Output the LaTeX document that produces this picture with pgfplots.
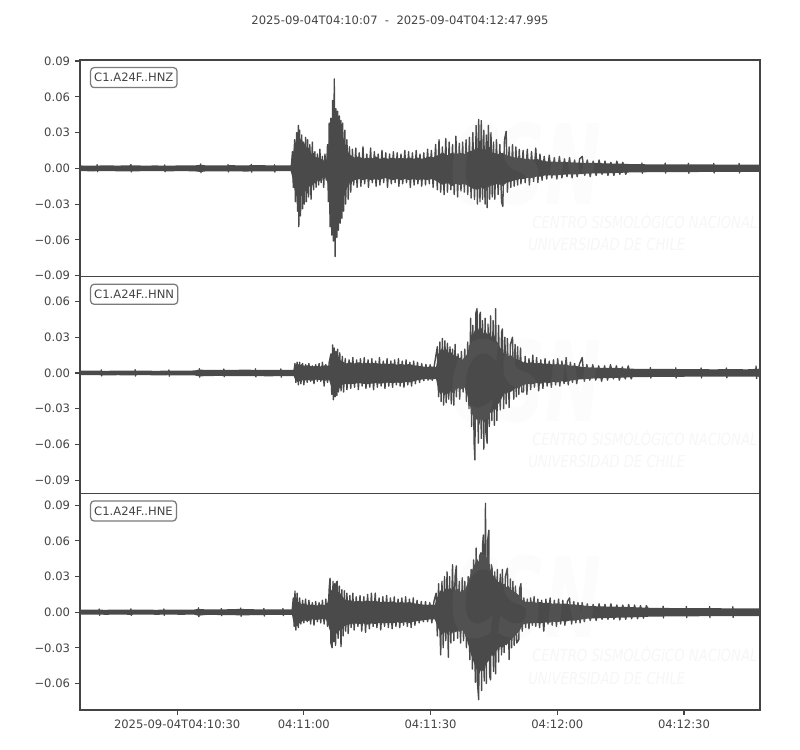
\documentclass[border=0pt]{standalone}
\usepackage{pgfplots}
\pgfplotsset{compat=1.18}
\usepgfplotslibrary{fillbetween}
\usepackage{fontspec}
\setmainfont{DejaVu Sans}
\definecolor{trc}{HTML}{4A4A4A}
\definecolor{axc}{HTML}{444444}
\definecolor{txc}{HTML}{444444}
\definecolor{boxc}{HTML}{7A7A7A}
\definecolor{wm}{RGB}{200,200,200}
\newcommand\tfont{\fontsize{8.33bp}{10bp}\selectfont}

\pgfplotsset{
  seis/.style={
    scale only axis, width=489.6bp, height=156bp,
    anchor=south west,
    xmin=0, xmax=160.995,
    scaled x ticks=false, scaled y ticks=false,
    axis line style={draw=axc, line width=0.8bp},
    tick style={draw=axc, line width=0.8bp},
    tick align=outside, major tick length=3.5bp,
    xtick pos=bottom, ytick pos=left,
    tick label style={font=\tfont, text=txc},
    yticklabel style={inner xsep=0pt, xshift=-3.5bp},
    xticklabel style={inner ysep=0pt, yshift=-3.5bp},
  },
  env/.style={draw=none, forget plot},
  trace/.style={trc, line width=1.0bp, line join=round, sharp plot, no marks},
}
\tikzset{
  lab/.style={anchor=north west, draw=boxc, line width=0.9bp, rounded corners=2.5bp,
    fill=white, inner xsep=2.6bp, inner ysep=0pt, minimum height=14.4bp,
    font=\tfont, text=txc},
  wm1/.style={anchor=west, inner sep=0pt, font=\fontsize{12bp}{13bp}\selectfont\itshape, text=wm, opacity=0.16, xscale=0.79},
  wm2/.style={inner sep=0pt, font=\fontsize{80bp}{90bp}\selectfont\bfseries\itshape, text=wm, opacity=0.06, xscale=0.6},
}

\begin{document}
\begin{tikzpicture}
\path (-57.6bp,-28.8bp) rectangle (518.4bp,511.2bp);

% ---- Panel 1: HNZ ----
\begin{axis}[seis, at={(0bp,312bp)},
  ymin=-0.0909, ymax=0.0909, xtick=\empty,
  ytick={-0.09,-0.06,-0.03,0,0.03,0.06,0.09},
  yticklabels={−0.09,−0.06,−0.03,0.00,0.03,0.06,0.09}]
\addplot[env, name path=zu] coordinates {
(0,0.0024)(3,0.0022)(6,0.0025)(9,0.0023)(12,0.0026)(15,0.0023)(18,0.0024)(21,0.0022)(24,0.0025)(27,0.0024)(28.6,0.0030)(30,0.0024)(33,0.0025)(36,0.0026)(39,0.0025)(42,0.0027)(45,0.0025)(48,0.0024)(49.9,0.0024)
(50.3,0.010)(50.8,0.020)(51.3,0.024)(51.8,0.021)(52.3,0.025)(52.8,0.019)(53.3,0.021)(53.8,0.016)(54.3,0.018)(54.8,0.012)(55.3,0.013)(55.8,0.009)(56.3,0.010)(56.8,0.007)(57.3,0.008)(57.8,0.006)(58.3,0.007)(58.7,0.014)(59.1,0.028)(59.5,0.034)(59.9,0.038)(60.3,0.040)(60.7,0.036)(61.1,0.039)(61.5,0.033)(61.9,0.030)(62.3,0.026)(62.7,0.021)(63.1,0.018)(63.6,0.013)(64.1,0.011)(65,0.009)(66,0.010)(67,0.008)(68,0.009)(69,0.008)(70,0.010)(71,0.008)(72,0.009)(73,0.008)(74,0.009)(75,0.008)(76,0.009)(77,0.008)(78,0.009)(79,0.008)(80,0.009)(81,0.008)(82,0.009)(83,0.010)(84,0.009)(85,0.012)(86,0.013)(87,0.011)(88,0.013)(89,0.012)(90,0.013)(91,0.012)(92,0.014)(93,0.015)(94,0.017)(95,0.015)(96,0.016)(97,0.014)(98,0.013)(99,0.012)(100,0.013)(101,0.011)(102,0.010)(103,0.009)(104,0.009)(105,0.008)(106,0.008)(107,0.007)(108,0.008)(109,0.007)(110,0.006)(112,0.0055)(114,0.0055)(116,0.005)(118,0.0048)(120,0.0045)(122,0.0045)(124,0.0042)(126,0.004)(128,0.004)(130,0.0036)(134,0.0034)(138,0.0034)(142,0.0033)(146,0.0033)(150,0.0032)(154,0.0032)(158,0.0031)(160.995,0.0031)};
\addplot[env, name path=zl] coordinates {
(0,-0.0024)(3,-0.0025)(6,-0.0023)(9,-0.0025)(12,-0.0026)(15,-0.0024)(18,-0.0023)(21,-0.0025)(24,-0.0024)(27,-0.0025)(28.6,-0.0031)(30,-0.0025)(33,-0.0026)(36,-0.0025)(39,-0.0027)(42,-0.0026)(45,-0.0025)(48,-0.0024)(49.9,-0.0024)
(50.3,-0.008)(50.8,-0.018)(51.3,-0.024)(51.8,-0.028)(52.3,-0.022)(52.8,-0.024)(53.3,-0.019)(53.8,-0.020)(54.3,-0.015)(54.8,-0.016)(55.3,-0.012)(55.8,-0.013)(56.3,-0.010)(56.8,-0.011)(57.3,-0.008)(57.8,-0.009)(58.3,-0.007)(58.7,-0.014)(59.1,-0.030)(59.5,-0.036)(59.9,-0.042)(60.3,-0.040)(60.7,-0.044)(61.1,-0.036)(61.5,-0.034)(61.9,-0.028)(62.3,-0.026)(62.7,-0.020)(63.1,-0.018)(63.6,-0.013)(64.1,-0.012)(65,-0.010)(66,-0.009)(67,-0.010)(68,-0.009)(69,-0.010)(70,-0.009)(71,-0.010)(72,-0.008)(73,-0.009)(74,-0.010)(75,-0.009)(76,-0.010)(77,-0.009)(78,-0.010)(79,-0.009)(80,-0.010)(81,-0.009)(82,-0.010)(83,-0.009)(84,-0.010)(85,-0.012)(86,-0.014)(87,-0.012)(88,-0.015)(89,-0.013)(90,-0.014)(91,-0.013)(92,-0.015)(93,-0.017)(94,-0.018)(95,-0.016)(96,-0.018)(97,-0.015)(98,-0.014)(99,-0.013)(100,-0.015)(101,-0.012)(102,-0.011)(103,-0.010)(104,-0.009)(105,-0.009)(106,-0.008)(107,-0.008)(108,-0.007)(109,-0.007)(110,-0.006)(112,-0.006)(114,-0.0055)(116,-0.005)(118,-0.005)(120,-0.0045)(122,-0.0042)(124,-0.0042)(126,-0.004)(128,-0.0038)(130,-0.0035)(134,-0.0033)(138,-0.0032)(142,-0.0031)(146,-0.0031)(150,-0.0030)(154,-0.0030)(158,-0.0029)(160.995,-0.0029)};
\addplot[fill=trc, draw=none] fill between[of=zu and zl];
\addplot[trace] coordinates {
(0,0)(4,0)(4.05,0.0030)(4.15,-0.0028)(4.2,0)(12,0)(12.05,0.0032)(12.15,-0.0030)(12.2,0)(20,0)(20.05,0.0028)(20.15,-0.0029)(20.2,0)(28.5,0)(28.55,0.0036)(28.65,-0.0036)(28.7,0)(35,0)(35.05,0.0031)(35.15,-0.0030)(35.2,0)(40.5,0)(40.55,0.0034)(40.65,-0.0032)(40.7,0)(46,0)(46.05,0.0030)(46.15,-0.0031)(46.2,0)(50.0,0)
(50.3,0.014)(50.5,-0.016)(50.8,0.024)(51.0,-0.028)(51.3,0.030)(51.5,-0.036)(51.7,0.036)(51.8,-0.049)(52.0,0.032)(52.2,-0.040)(52.5,0.028)(52.7,-0.034)(52.9,0.022)(53.1,-0.030)(53.4,0.026)(53.6,-0.028)(53.9,0.024)(54.1,-0.024)(54.4,0.020)(54.7,-0.026)(55.0,0.022)(55.3,-0.018)(55.6,0.014)(55.9,-0.016)(56.2,0.012)(56.5,-0.014)(56.8,0.016)(57.1,-0.012)(57.4,0.010)(57.7,-0.016)(58.0,0.012)(58.3,-0.010)
(58.6,0.020)(58.8,-0.028)(59.0,0.038)(59.2,-0.049)(59.4,0.042)(59.6,-0.056)(59.8,0.057)(60.0,-0.061)(60.2,0.075)(60.4,-0.074)(60.6,0.050)(60.8,-0.058)(61.0,0.048)(61.2,-0.052)(61.4,0.044)(61.6,-0.046)(61.8,0.040)(62.0,-0.042)(62.2,0.038)(62.4,-0.036)(62.7,0.032)(62.9,-0.030)(63.2,0.024)(63.5,-0.026)(63.8,0.018)(64.1,-0.020)
(64.5,0.016)(64.8,-0.014)(65.3,0.017)(65.6,-0.016)(66.1,0.013)(66.5,-0.015)(67.0,0.018)(67.4,-0.013)(67.9,0.012)(68.3,-0.016)(68.8,0.017)(69.2,-0.012)(69.7,0.014)(70.1,-0.015)(70.6,0.012)(71.0,-0.014)(71.5,0.015)(71.9,-0.012)(72.4,0.013)(72.8,-0.016)(73.3,0.012)(73.7,-0.013)(74.2,0.014)(74.6,-0.012)(75.1,0.013)(75.5,-0.015)(76.0,0.012)(76.4,-0.013)(76.9,0.015)(77.3,-0.012)(77.8,0.014)(78.2,-0.016)(78.7,0.013)(79.1,-0.014)(79.6,0.015)(80.0,-0.013)(80.5,0.012)(80.9,-0.015)(81.4,0.013)(81.8,-0.014)(82.3,0.016)(82.7,-0.013)(83.2,0.015)(83.6,-0.016)
(84.2,0.020)(84.6,-0.018)(85.0,0.024)(85.4,-0.020)(85.8,0.018)(86.2,-0.022)(86.6,0.025)(87.0,-0.020)(87.4,0.022)(87.8,-0.018)(88.2,0.020)(88.6,-0.022)(89.0,0.027)(89.4,-0.024)(89.8,0.021)(90.2,-0.019)(90.6,0.022)(91.0,-0.020)(91.4,0.024)(91.8,-0.022)(92.2,0.026)(92.6,-0.025)(93.0,0.030)(93.4,-0.026)(93.8,0.036)(94.1,-0.030)(94.4,0.041)(94.7,-0.028)(95.0,0.040)(95.3,-0.026)(95.6,0.032)(95.9,-0.030)(96.2,0.028)(96.4,-0.033)(96.7,0.036)(97.0,-0.026)(97.3,0.030)(97.6,-0.024)(97.9,0.022)(98.2,-0.026)(98.6,0.024)(99.0,-0.022)(99.4,0.020)(99.8,-0.028)(100.1,-0.032)(100.5,0.024)(100.9,0.031)(101.2,-0.020)(101.6,0.018)(102.0,-0.016)(102.4,0.020)(102.8,-0.015)(103.2,0.018)(103.6,-0.014)(104.0,0.016)(104.4,-0.013)
(104.9,0.015)(105.4,-0.012)(105.9,0.016)(106.4,-0.014)(106.9,0.014)(107.4,-0.011)(107.9,0.017)(108.4,-0.012)(108.9,0.012)(109.4,-0.010)(109.9,0.010)(110.5,-0.009)(111.1,0.011)(111.7,-0.008)(112.3,0.009)(112.9,-0.009)(113.5,0.010)(114.1,-0.008)(114.7,0.008)(115.3,-0.007)(115.9,0.009)(116.5,-0.008)(117.1,0.007)(117.7,-0.007)(118.3,0.008)(118.9,0.010)(119.5,-0.006)(120.1,0.007)(120.8,-0.007)(121.5,0.006)(122.2,-0.006)(122.9,0.007)(123.6,-0.005)(124.3,0.006)(125.0,-0.006)(125.7,0.005)(126.4,-0.006)(127.1,0.006)(127.8,-0.005)(128.5,0.005)(129.2,-0.005)
(129.8,0)(133,0)(133.05,0.0045)(133.15,-0.0042)(133.2,0)(138.5,0)(138.55,0.0044)(138.65,-0.0040)(138.7,0)(144,0)(144.05,0.0042)(144.15,-0.0041)(144.2,0)(150,0)(150.05,0.0041)(150.15,-0.0039)(150.2,0)(156,0)(156.05,0.0040)(156.15,-0.0038)(156.2,0)(160.995,0)};
\node[wm2] at (rel axis cs:0.656,0.52) {CSN};
\node[wm1] at (rel axis cs:0.665,0.257) {CENTRO SISMOLÓGICO NACIONAL};
\node[wm1] at (rel axis cs:0.659,0.148) {UNIVERSIDAD DE CHILE};
\node[lab] at (rel axis cs:0.0147,0.9677) {C1.A24F..HNZ};
\end{axis}

% ---- Panel 2: HNN ----
\begin{axis}[seis, at={(0bp,156bp)},
  ymin=-0.1011, ymax=0.0809, xtick=\empty,
  ytick={-0.09,-0.06,-0.03,0,0.03,0.06},
  yticklabels={−0.09,−0.06,−0.03,0.00,0.03,0.06}]
\addplot[env, name path=nu] coordinates {
(0,0.0019)(3,0.0020)(6,0.0018)(9,0.0020)(12,0.0019)(15,0.0020)(18,0.0018)(21,0.0020)(24,0.0019)(27,0.0021)(28.3,0.0028)(30,0.0026)(33,0.0027)(36,0.0026)(39,0.0028)(42,0.0026)(45,0.0027)(48,0.0026)(50.6,0.0026)
(51,0.007)(51.5,0.008)(52,0.0065)(52.5,0.0075)(53,0.006)(54,0.0065)(55,0.0055)(56,0.006)(57,0.0055)(58,0.0065)(59,0.006)(59.5,0.012)(60,0.016)(60.5,0.013)(61,0.015)(61.5,0.011)(62,0.010)(63,0.008)(64,0.009)(65,0.008)(66,0.009)(67,0.008)(68,0.0085)(69,0.008)(70,0.0085)(71,0.0075)(72,0.008)(73,0.0075)(74,0.008)(75,0.007)(76,0.0075)(77,0.007)(78,0.0075)(79,0.0065)(80,0.006)(81,0.0055)(82,0.005)(83,0.0055)(84.3,0.005)(84.8,0.016)(85.3,0.019)(85.8,0.021)(86.3,0.018)(86.8,0.020)(87.3,0.017)(87.8,0.018)(88.3,0.015)(88.8,0.016)(89.5,0.012)(90,0.013)(90.5,0.011)(91,0.013)(91.5,0.015)(92,0.020)(92.5,0.028)(93,0.032)(93.5,0.036)(94,0.040)(94.5,0.035)(95,0.038)(95.5,0.033)(96,0.036)(96.5,0.031)(97,0.034)(97.5,0.030)(98,0.033)(98.5,0.027)(99,0.025)(99.5,0.021)(100,0.019)(100.5,0.015)(101,0.016)(101.5,0.014)(102,0.015)(103,0.012)(104,0.011)(105,0.009)(106,0.0085)(107,0.009)(108,0.008)(109,0.0085)(110,0.0075)(111,0.008)(112,0.007)(113,0.0075)(114,0.007)(115,0.0072)(116,0.006)(117,0.0062)(118,0.0055)(120,0.0048)(122,0.0045)(124,0.0042)(126,0.0043)(128,0.004)(130,0.0036)(134,0.0034)(138,0.0034)(142,0.0033)(146,0.0032)(150,0.0031)(154,0.0032)(158,0.0031)(160.995,0.0036)};
\addplot[env, name path=nl] coordinates {
(0,-0.0019)(3,-0.0018)(6,-0.0020)(9,-0.0019)(12,-0.0020)(15,-0.0018)(18,-0.0020)(21,-0.0019)(24,-0.0020)(27,-0.0020)(28.3,-0.0029)(30,-0.0026)(33,-0.0025)(36,-0.0027)(39,-0.0026)(42,-0.0027)(45,-0.0028)(48,-0.0026)(50.6,-0.0026)
(51,-0.006)(51.5,-0.0075)(52,-0.007)(52.5,-0.006)(53,-0.0065)(54,-0.006)(55,-0.0065)(56,-0.0055)(57,-0.006)(58,-0.0065)(59,-0.006)(59.5,-0.012)(60,-0.014)(60.5,-0.015)(61,-0.012)(61.5,-0.013)(62,-0.010)(63,-0.009)(64,-0.0095)(65,-0.009)(66,-0.0085)(67,-0.009)(68,-0.0095)(69,-0.009)(70,-0.0085)(71,-0.009)(72,-0.0085)(73,-0.008)(74,-0.0085)(75,-0.008)(76,-0.0085)(77,-0.0075)(78,-0.008)(79,-0.007)(80,-0.006)(81,-0.0055)(82,-0.005)(83,-0.0055)(84.3,-0.005)(84.8,-0.014)(85.3,-0.018)(85.8,-0.016)(86.3,-0.019)(86.8,-0.017)(87.3,-0.018)(87.8,-0.015)(88.3,-0.017)(88.8,-0.014)(89.5,-0.013)(90,-0.012)(90.5,-0.014)(91,-0.012)(91.5,-0.016)(92,-0.022)(92.5,-0.030)(93,-0.036)(93.5,-0.042)(94,-0.038)(94.5,-0.044)(95,-0.037)(95.5,-0.042)(96,-0.036)(96.5,-0.039)(97,-0.033)(97.5,-0.034)(98,-0.030)(98.5,-0.031)(99,-0.026)(99.5,-0.024)(100,-0.020)(100.5,-0.017)(101,-0.018)(101.5,-0.015)(102,-0.016)(103,-0.013)(104,-0.012)(105,-0.010)(106,-0.009)(107,-0.0095)(108,-0.0085)(109,-0.009)(110,-0.008)(111,-0.0085)(112,-0.0075)(113,-0.008)(114,-0.007)(115,-0.0075)(116,-0.0065)(117,-0.006)(118,-0.0055)(120,-0.005)(122,-0.0045)(124,-0.0044)(126,-0.0042)(128,-0.004)(130,-0.0036)(134,-0.0034)(138,-0.0033)(142,-0.0032)(146,-0.0031)(150,-0.0031)(154,-0.0030)(158,-0.0030)(160.995,-0.0032)};
\addplot[fill=trc, draw=none] fill between[of=nu and nl];
\addplot[trace] coordinates {
(0,0)(5,0)(5.05,0.0026)(5.15,-0.0025)(5.2,0)(13,0)(13.05,0.0027)(13.15,-0.0026)(13.2,0)(21,0)(21.05,0.0025)(21.15,-0.0027)(21.2,0)(28.2,0)(28.25,0.0036)(28.35,-0.0035)(28.4,0)(34,0)(34.05,0.0033)(34.15,-0.0032)(34.2,0)(41.5,0)(41.55,0.0035)(41.65,-0.0033)(41.7,0)(47.5,0)(47.55,0.0034)(47.65,-0.0036)(47.7,0)(50.6,0)
(50.9,0.008)(51.1,-0.008)(51.4,0.009)(51.7,-0.010)(52.0,0.009)(52.3,-0.009)(52.7,0.008)(53.0,-0.010)(53.4,0.007)(53.8,-0.008)(54.2,0.008)(54.6,-0.007)(55.0,0.006)(55.4,-0.009)(55.8,0.007)(56.2,-0.007)(56.6,0.008)(57.0,-0.007)(57.4,0.009)(57.8,-0.011)(58.2,0.007)(58.6,-0.008)(59.0,0.009)
(59.4,0.016)(59.6,-0.018)(59.8,0.0236)(60.0,-0.0225)(60.2,0.021)(60.4,-0.020)(60.6,0.018)(60.8,-0.019)(61.0,0.020)(61.2,-0.016)(61.5,0.017)(61.8,-0.015)(62.1,0.014)(62.4,-0.016)
(62.8,0.012)(63.2,-0.014)(63.7,0.011)(64.1,-0.013)(64.6,0.013)(65.0,-0.012)(65.5,0.011)(65.9,-0.014)(66.4,0.012)(66.8,-0.011)(67.3,0.013)(67.7,-0.013)(68.2,0.011)(68.6,-0.012)(69.1,0.012)(69.5,-0.014)(70.0,0.010)(70.4,-0.012)(70.9,0.013)(71.3,-0.011)(71.8,0.010)(72.2,-0.013)(72.7,0.012)(73.1,-0.011)(73.6,0.010)(74.0,-0.012)(74.5,0.011)(74.9,-0.010)(75.4,0.012)(75.8,-0.011)(76.3,0.010)(76.7,-0.012)(77.2,0.011)(77.6,-0.010)(78.1,0.009)(78.5,-0.011)(79.0,0.010)(79.4,-0.009)(79.9,0.009)(80.4,-0.008)(80.9,0.0078)(81.4,-0.0065)(81.9,0.0072)(82.4,-0.006)(82.9,0.007)(83.4,-0.0062)(83.9,0.0068)
(84.6,0.022)(84.9,-0.020)(85.2,0.026)(85.5,-0.024)(85.8,0.029)(86.1,-0.027)(86.4,0.027)(86.7,-0.025)(87.0,0.025)(87.3,-0.022)(87.6,0.022)(87.9,-0.026)(88.2,0.020)(88.5,-0.027)(88.8,0.024)(89.1,-0.020)(89.5,0.016)(89.9,-0.022)(90.3,0.018)(90.7,-0.016)(91.1,0.020)(91.5,-0.024)(91.8,0.026)(92.1,-0.030)(92.5,0.046)(92.7,-0.045)(93.0,0.040)(93.3,-0.058)(93.5,-0.073)(93.7,0.050)(94.0,0.054)(94.3,-0.059)(94.6,0.048)(94.8,0.051)(95.0,-0.055)(95.3,0.044)(95.6,-0.064)(95.9,0.046)(96.1,-0.050)(96.4,-0.059)(96.6,0.041)(96.9,-0.045)(97.2,0.048)(97.5,-0.040)(97.8,0.044)(98.1,-0.044)(98.4,0.054)(98.7,-0.040)(99.1,0.040)(99.5,-0.031)(99.8,0.034)(100.0,0.037)(100.3,-0.030)(100.6,0.030)(100.9,-0.026)(101.2,0.029)(101.6,-0.029)(101.9,0.024)(102.4,0.030)(102.7,-0.022)(103.0,0.024)(103.3,-0.020)(103.6,0.022)(103.9,-0.018)(104.3,0.021)(104.6,-0.016)
(105.0,-0.016)(105.4,0.014)(105.8,-0.018)(106.3,0.012)(106.7,-0.014)(107.2,0.015)(107.6,-0.012)(108.1,0.013)(108.6,-0.015)(109.1,0.011)(109.6,-0.013)(110.1,0.012)(110.6,-0.011)(111.1,0.010)(111.6,-0.012)(112.1,0.011)(112.6,-0.010)(113.1,0.012)(113.6,-0.011)(114.1,0.010)(114.6,-0.009)(115.1,0.013)(115.6,-0.010)(116.1,0.009)(116.6,-0.008)(117.1,0.008)(117.6,-0.009)
(118.2,0.007)(118.9,0.013)(119.4,-0.007)(120.0,0.007)(120.7,-0.006)(121.4,0.007)(122.1,-0.006)(122.8,0.006)(123.5,-0.007)(124.2,0.006)(124.9,-0.006)(125.6,0.007)(126.3,-0.005)(127.0,0.006)(127.7,-0.006)(128.4,0.005)(129.1,-0.005)(129.8,0.006)(130.5,-0.005)
(131,0)(135,0)(135.05,0.0045)(135.15,-0.0043)(135.2,0)(141,0)(141.05,0.0043)(141.15,-0.0042)(141.2,0)(147,0)(147.05,0.0042)(147.15,-0.0041)(147.2,0)(153,0)(153.05,0.0042)(153.15,-0.0040)(153.2,0)(160.0,0)(160.05,0.0058)(160.2,-0.0046)(160.3,0)(160.995,0)};
\node[wm2] at (rel axis cs:0.656,0.52) {CSN};
\node[wm1] at (rel axis cs:0.665,0.257) {CENTRO SISMOLÓGICO NACIONAL};
\node[wm1] at (rel axis cs:0.659,0.148) {UNIVERSIDAD DE CHILE};
\node[lab] at (rel axis cs:0.0147,0.9677) {C1.A24F..HNN};
\end{axis}

% ---- Panel 3: HNE ----
\begin{axis}[seis, at={(0bp,0bp)},
  ymin=-0.0824, ymax=0.1001,
  xtick={23,53,83,113,143},
  xticklabels={2025-09-04T04:10:30,04:11:00,04:11:30,04:12:00,04:12:30},
  ytick={-0.06,-0.03,0,0.03,0.06,0.09},
  yticklabels={−0.06,−0.03,0.00,0.03,0.06,0.09}]
\addplot[env, name path=eu] coordinates {
(0,0.0021)(3,0.0022)(6,0.0020)(9,0.0022)(12,0.0021)(15,0.0022)(18,0.0020)(21,0.0022)(24,0.0021)(27,0.0022)(28,0.0028)(30,0.0023)(33,0.0024)(36,0.0025)(38,0.0028)(40,0.0025)(43,0.0024)(46,0.0024)(50.2,0.0023)
(50.5,0.009)(51,0.011)(51.5,0.009)(52,0.008)(52.5,0.0065)(53,0.0075)(54,0.006)(55,0.0065)(56,0.0055)(57,0.0065)(58,0.006)(58.6,0.008)(59,0.014)(59.5,0.019)(60,0.016)(60.5,0.019)(61,0.015)(61.5,0.017)(62,0.013)(62.5,0.012)(63,0.010)(64,0.010)(65,0.009)(66,0.0095)(67,0.009)(68,0.010)(69,0.009)(70,0.0095)(71,0.0085)(72,0.009)(73,0.0085)(74,0.009)(75,0.008)(76,0.0085)(77,0.008)(78,0.0085)(79,0.0075)(80,0.007)(81,0.0065)(82,0.006)(83,0.0065)(84,0.006)(84.5,0.012)(85,0.016)(85.5,0.019)(86,0.017)(86.5,0.020)(87,0.018)(87.5,0.021)(88,0.019)(88.5,0.022)(89,0.018)(89.5,0.020)(90,0.017)(90.5,0.019)(91,0.018)(91.5,0.022)(92,0.027)(92.5,0.032)(93,0.037)(93.5,0.041)(94,0.045)(94.5,0.042)(95,0.047)(95.5,0.050)(96,0.048)(96.5,0.044)(97,0.038)(97.5,0.033)(98,0.030)(98.5,0.028)(99,0.025)(99.5,0.027)(100,0.023)(100.5,0.024)(101,0.021)(101.5,0.022)(102,0.019)(103,0.017)(104,0.014)(104.6,0.011)(105,0.009)(106,0.0085)(107,0.009)(108,0.008)(109,0.0085)(110,0.0075)(111,0.008)(112,0.007)(113,0.0075)(114,0.007)(115,0.0072)(116,0.0065)(117,0.0065)(118,0.006)(119,0.0058)(120,0.0052)(122,0.005)(124,0.0048)(126,0.0047)(128,0.0045)(130,0.0043)(132,0.0041)(134,0.0038)(136,0.0036)(140,0.0035)(144,0.0035)(148,0.0034)(152,0.0033)(156,0.0033)(160.995,0.0033)};
\addplot[env, name path=el] coordinates {
(0,-0.0021)(3,-0.0020)(6,-0.0022)(9,-0.0021)(12,-0.0022)(15,-0.0020)(18,-0.0022)(21,-0.0021)(24,-0.0022)(27,-0.0021)(28,-0.0030)(30,-0.0023)(33,-0.0024)(36,-0.0025)(38,-0.0027)(40,-0.0026)(43,-0.0024)(46,-0.0023)(50.2,-0.0023)
(50.5,-0.008)(51,-0.011)(51.5,-0.012)(52,-0.009)(52.5,-0.008)(53,-0.007)(54,-0.0075)(55,-0.006)(56,-0.0065)(57,-0.006)(58,-0.0055)(58.6,-0.008)(59,-0.014)(59.5,-0.018)(60,-0.020)(60.5,-0.017)(61,-0.019)(61.5,-0.015)(62,-0.014)(62.5,-0.012)(63,-0.011)(64,-0.010)(65,-0.0095)(66,-0.010)(67,-0.0095)(68,-0.0105)(69,-0.0095)(70,-0.010)(71,-0.009)(72,-0.0095)(73,-0.009)(74,-0.0095)(75,-0.0085)(76,-0.009)(77,-0.0085)(78,-0.009)(79,-0.008)(80,-0.0075)(81,-0.007)(82,-0.0065)(83,-0.006)(84,-0.006)(84.5,-0.011)(85,-0.015)(85.5,-0.017)(86,-0.019)(86.5,-0.016)(87,-0.019)(87.5,-0.016)(88,-0.018)(88.5,-0.016)(89,-0.017)(89.5,-0.015)(90,-0.017)(90.5,-0.015)(91,-0.018)(91.5,-0.022)(92,-0.028)(92.5,-0.035)(93,-0.040)(93.5,-0.045)(94,-0.049)(94.5,-0.052)(95,-0.048)(95.5,-0.050)(96,-0.045)(96.5,-0.042)(97,-0.040)(97.5,-0.036)(98,-0.038)(98.5,-0.033)(99,-0.031)(99.5,-0.029)(100,-0.030)(100.5,-0.027)(101,-0.028)(101.5,-0.025)(102,-0.023)(103,-0.020)(104,-0.016)(104.6,-0.012)(105,-0.010)(106,-0.0095)(107,-0.0095)(108,-0.009)(109,-0.0095)(110,-0.0085)(111,-0.009)(112,-0.008)(113,-0.0085)(114,-0.0075)(115,-0.008)(116,-0.007)(117,-0.0072)(118,-0.0065)(119,-0.006)(120,-0.0055)(122,-0.0052)(124,-0.005)(126,-0.0048)(128,-0.0046)(130,-0.0044)(132,-0.0042)(134,-0.0039)(136,-0.0037)(140,-0.0036)(144,-0.0035)(148,-0.0034)(152,-0.0034)(156,-0.0033)(160.995,-0.0033)};
\addplot[fill=trc, draw=none] fill between[of=eu and el];
\addplot[trace] coordinates {
(0,0)(4.5,0)(4.55,0.0027)(4.65,-0.0026)(4.7,0)(12,0)(12.05,0.0028)(12.15,-0.0027)(12.2,0)(19.8,0)(19.85,0.0027)(19.95,-0.0028)(20.0,0)(28,0)(28.05,0.0036)(28.15,-0.0038)(28.2,0)(33.4,0)(33.45,0.0031)(33.55,-0.0030)(33.6,0)(38,0)(38.05,0.0035)(38.15,-0.0034)(38.2,0)(43.5,0)(43.55,0.0031)(43.65,-0.0032)(43.7,0)(48,0)(48.05,0.0030)(48.15,-0.0029)(48.2,0)(50.2,0)
(50.5,0.012)(50.7,-0.012)(50.9,0.0177)(51.1,-0.015)(51.4,0.016)(51.7,-0.013)(52.0,0.012)(52.3,-0.010)(52.7,0.010)(53.0,-0.009)(53.4,0.011)(53.8,-0.008)(54.2,0.010)(54.6,-0.010)(55.0,0.008)(55.4,-0.011)(55.8,0.009)(56.2,-0.008)(56.6,0.008)(57.0,-0.009)(57.4,0.010)(57.8,-0.010)(58.2,0.011)(58.6,-0.012)
(59.0,0.020)(59.2,0.0286)(59.4,-0.026)(59.7,-0.030)(59.9,0.026)(60.1,-0.025)(60.3,0.024)(60.5,-0.028)(60.7,0.025)(60.9,0.026)(61.1,-0.022)(61.4,0.022)(61.8,-0.029)(62.0,0.019)(62.3,-0.020)(62.6,0.018)(62.9,-0.016)(63.2,0.016)(63.5,-0.018)
(63.9,0.014)(64.2,-0.013)(64.6,0.016)(64.9,-0.015)(65.4,0.013)(65.8,-0.012)(66.3,0.014)(66.7,-0.016)(67.2,0.013)(67.6,-0.017)(68.1,0.015)(68.5,-0.014)(69.0,0.016)(69.4,-0.012)(69.9,0.016)(70.3,-0.013)(70.8,0.012)(71.2,-0.015)(71.7,0.013)(72.1,-0.012)(72.6,0.014)(73.0,-0.013)(73.5,0.012)(73.9,-0.014)(74.4,0.013)(74.8,-0.012)(75.3,0.011)(75.7,-0.013)(76.2,0.012)(76.6,-0.011)(77.1,0.013)(77.5,-0.012)(78.0,0.011)(78.4,-0.013)(78.9,0.012)(79.3,-0.011)(79.8,0.010)(80.3,-0.009)(80.8,0.009)(81.3,-0.008)(81.8,0.009)(82.3,-0.008)(82.8,0.008)(83.3,-0.009)(83.8,0.009)
(84.3,0.016)(84.6,-0.020)(84.9,0.024)(85.4,-0.036)(85.7,0.026)(86.0,-0.030)(86.3,0.030)(86.6,-0.024)(86.9,0.034)(87.2,-0.038)(87.5,0.030)(87.8,-0.026)(88.2,0.040)(88.5,-0.024)(88.8,0.030)(89.1,0.039)(89.4,-0.022)(89.8,0.026)(90.1,-0.026)(90.5,0.029)(90.8,-0.024)(91.1,0.026)(91.5,-0.030)(91.9,0.030)(92.3,-0.040)(92.6,0.036)(92.9,-0.048)(93.2,0.044)(93.6,-0.059)(93.8,0.054)(94.1,-0.060)(94.4,-0.0737)(94.6,0.047)(94.9,0.050)(95.1,-0.066)(95.3,0.056)(95.5,0.065)(95.7,-0.058)(96.0,0.0917)(96.2,-0.060)(96.5,0.060)(96.8,0.069)(97.0,-0.054)(97.2,-0.057)(97.4,0.040)(97.6,0.036)(97.9,-0.050)(98.2,0.034)(98.4,-0.052)(98.8,0.036)(99.1,-0.042)(99.5,0.032)(99.8,-0.036)(100.0,0.036)(100.4,-0.034)(100.7,0.030)(101.2,0.037)(101.6,-0.040)(101.9,0.028)(102.2,-0.030)(102.5,0.026)(102.8,-0.028)(103.1,0.022)(103.4,-0.026)(103.9,-0.023)(104.1,0.020)(104.4,0.024)(104.7,-0.016)
(105.1,0.012)(105.5,-0.013)(105.9,0.011)(106.3,-0.014)(106.7,0.012)(107.1,-0.011)(107.5,0.013)(107.9,-0.012)(108.4,0.011)(108.8,-0.013)(109.3,0.010)(109.8,-0.016)(110.3,0.011)(110.8,-0.010)(111.3,0.012)(111.8,-0.011)(112.3,0.010)(112.8,-0.012)(113.3,0.011)(113.8,-0.010)(114.3,0.010)(114.8,-0.011)(115.4,0.009)(115.9,0.012)(116.4,-0.010)(116.9,0.009)(117.4,-0.009)(117.9,0.008)(118.4,-0.009)(118.9,0.008)(119.4,-0.008)
(120.1,0.007)(120.8,-0.007)(121.5,0.0065)(122.2,-0.007)(122.9,0.007)(123.6,-0.006)(124.3,0.0065)(125.0,-0.006)(125.7,0.007)(126.4,-0.006)(127.1,0.006)(127.8,-0.0065)(128.5,0.006)(129.2,-0.006)(129.9,0.0065)(130.6,-0.0055)(131.3,0.006)(132.0,-0.0055)(132.7,0.0055)(133.4,-0.005)(134.1,0.0055)
(134.8,0)(138,0)(138.05,0.0050)(138.15,-0.0048)(138.2,0)(143.5,0)(143.55,0.0048)(143.65,-0.0047)(143.7,0)(149,0)(149.05,0.0047)(149.15,-0.0046)(149.2,0)(154.5,0)(154.55,0.0046)(154.65,-0.0045)(154.7,0)(160.995,0)};
\node[wm2] at (rel axis cs:0.656,0.52) {CSN};
\node[wm1] at (rel axis cs:0.665,0.257) {CENTRO SISMOLÓGICO NACIONAL};
\node[wm1] at (rel axis cs:0.659,0.148) {UNIVERSIDAD DE CHILE};
\node[lab] at (rel axis cs:0.0147,0.9677) {C1.A24F..HNE};
\end{axis}

\node[font=\tfont, text=txc] at (230.4bp,496.8bp) {2025-09-04T04:10:07\ \ -\ \ 2025-09-04T04:12:47.995};
\end{tikzpicture}
\end{document}
